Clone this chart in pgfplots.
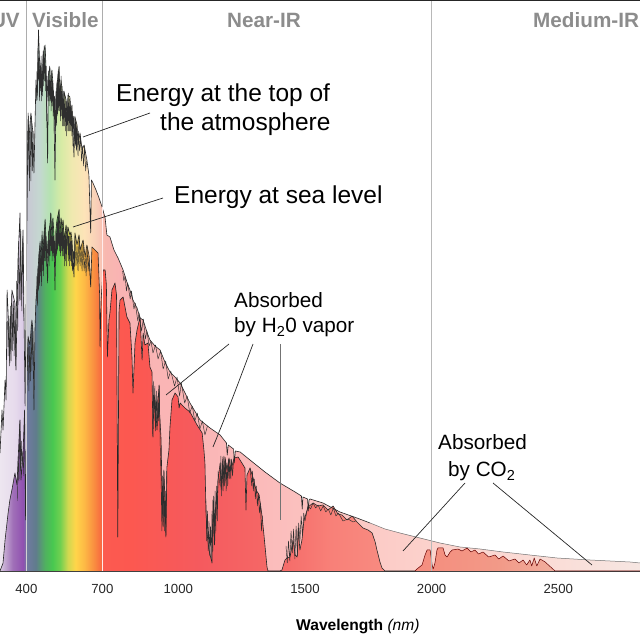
\documentclass[border=0pt]{standalone}
\usepackage{fontspec}
\setmainfont{Liberation Sans}
\usepackage{pgfplots}
\usepackage{pgfplotstable}
\pgfplotsset{compat=1.18}
% top-of-atmosphere spectrum: wavelength (nm), height (arbitrary)
\pgfplotstableread{
nm h
296 118
304 161
308 141
316 191
320 171
324 281
328 258
335 208
343 281
355 268
359 201
367 311
375 358
379 271
387 341
395 165
399 271
407 458
410 431
418 458
426 438
430 398
438 491
442 471
448 541
454 496
458 508
462 481
466 516
474 526
478 501
484 408
487 496
493 504
497 476
501 501
505 488
509 461
513 391
517 471
521 486
529 504
533 476
537 491
541 481
545 451
549 479
557 471
561 446
564 476
572 474
576 446
580 466
588 414
592 454
600 446
604 426
612 438
620 421
628 426
639 411
647 396
654 338
657 391
663 388
675 381
687 373
699 364
711 353
718 336
730 334
746 321
762 313
782 301
797 289
809 281
821 271
837 263
849 253
861 251
876 239
888 231
908 225
928 221
947 209
967 199
987 194
1007 188
1046 168
1086 151
1125 143
1165 136
1190 128
1193 116
1197 126
1218 122
1221 108
1225 120
1244 119
1283 111
1342 99
1401 88
1461 79
1486 75
1489 62
1492 74
1510 72
1513 60
1516 71
1520 72
1571 68
1638 59
1705 53
1757 48
1816 42
1875 38
1954 33
2033 28
2112 24
2191 22
2282 19
2388 16
2495 13
2625 11
2783 9
2823 8
}\toptable
% sea-level spectrum
\pgfplotstableread{
nm h
296 0
308 8
316 31
328 58
335 71
343 81
355 98
363 86
371 131
375 151
379 91
387 118
393 161
397 51
403 201
407 234
414 226
422 251
426 241
430 161
434 241
438 271
442 284
446 301
450 316
454 328
458 311
462 336
466 321
474 351
478 331
484 288
487 336
493 346
497 358
501 331
505 353
509 336
513 281
517 341
521 351
529 361
533 336
537 353
541 343
545 351
549 331
557 346
561 326
564 344
572 336
576 339
580 331
588 294
592 338
600 326
608 336
612 321
624 331
632 314
639 326
647 316
654 284
659 324
671 321
683 318
689 278
691 224
695 271
703 301
711 301
716 286
720 214
726 251
730 258
738 281
750 288
756 276
761 34
764 171
766 261
770 271
782 274
797 254
809 248
817 214
821 178
829 228
837 241
849 254
855 221
857 211
861 238
868 226
880 228
888 204
896 199
900 134
904 176
908 171
916 141
920 171
924 186
926 158
932 131
936 71
940 44
943 101
947 71
951 34
955 104
963 121
967 144
975 171
987 178
999 174
1003 163
1007 168
1026 163
1046 159
1074 146
1094 138
1101 121
1105 108
1109 61
1113 38
1121 21
1133 8
1137 71
1143 26
1149 71
1153 71
1157 91
1165 108
1169 81
1176 114
1180 86
1184 114
1192 101
1200 113
1208 101
1220 113
1236 114
1251 108
1263 103
1267 61
1271 96
1283 103
1295 93
1307 81
1319 76
1330 56
1338 36
1350 4
1354 0
1401 0
1409 1
1421 11
1429 13
1441 14
1453 31
1461 16
1469 14
1473 43
1480 21
1488 31
1496 51
1500 54
1512 64
1532 68
1551 65
1571 66
1591 61
1611 65
1630 57
1646 56
1666 51
1686 55
1705 49
1729 43
1749 41
1765 38
1777 29
1784 21
1796 9
1804 3
1816 0
1934 0
1942 2
1962 6
1974 16
1982 21
1994 21
2002 6
2006 2
2013 8
2021 21
2025 23
2045 23
2053 16
2061 14
2073 19
2081 21
2104 22
2120 20
2140 23
2155 19
2171 21
2185 17
2203 19
2225 14
2250 16
2265 12
2282 15
2305 10
2329 12
2345 8
2361 11
2375 6
2388 11
2395 5
2405 13
2415 5
2428 12
2448 9
2487 0
2823 0
}\seatable
\definecolor{u0}{HTML}{EDE6F0}\definecolor{u1}{HTML}{E6DAEC}\definecolor{u2}{HTML}{D9C9E6}
\definecolor{u3}{HTML}{C8C8D4}\definecolor{u4}{HTML}{C4D8D0}\definecolor{u5}{HTML}{B5E3B0}
\definecolor{u6}{HTML}{D8EBA5}\definecolor{u7}{HTML}{F0E9B0}\definecolor{u8}{HTML}{FDE3B8}
\definecolor{u9}{HTML}{F8CDB8}\definecolor{u10}{HTML}{F8B8B0}\definecolor{u11}{HTML}{F9B3B3}
\definecolor{u12}{HTML}{FBB9B9}\definecolor{u13}{HTML}{FCC8C4}\definecolor{u14}{HTML}{FCD4CE}
\definecolor{u15}{HTML}{FADED8}\definecolor{u16}{HTML}{F6E6E2}
\pgfdeclarehorizontalshading{upperspec}{100bp}{
color(0bp)=(u0);color(25bp)=(u0);color(26.2bp)=(u1);color(26.9bp)=(u2);color(27.1bp)=(u3);
color(28.1bp)=(u4);color(28.9bp)=(u5);color(29.8bp)=(u6);color(30.6bp)=(u7);color(31.6bp)=(u8);
color(32.6bp)=(u9);color(33.2bp)=(u10);color(34.4bp)=(u11);color(44.5bp)=(u12);color(52.3bp)=(u13);
color(60.2bp)=(u14);color(68.8bp)=(u15);color(75bp)=(u16);color(100bp)=(u16)}
\definecolor{l0}{HTML}{D8C8E0}\definecolor{l1}{HTML}{A070B8}\definecolor{l2}{HTML}{9050B0}
\definecolor{l3}{HTML}{707AA0}\definecolor{l4}{HTML}{607C8C}\definecolor{l5}{HTML}{50B060}
\definecolor{l6}{HTML}{48C850}\definecolor{l7}{HTML}{70D050}\definecolor{l8}{HTML}{D0D850}
\definecolor{l9}{HTML}{FFD54A}\definecolor{l10}{HTML}{FDB845}\definecolor{l11}{HTML}{F98A40}
\definecolor{l12}{HTML}{F87040}\definecolor{l13}{HTML}{FC5A50}\definecolor{l14}{HTML}{FC5850}
\definecolor{l15}{HTML}{F55A5E}\definecolor{l16}{HTML}{F56A68}\definecolor{l17}{HTML}{F88078}
\definecolor{l18}{HTML}{F88A80}\definecolor{l19}{HTML}{F49080}\definecolor{l20}{HTML}{F29A88}
\definecolor{l21}{HTML}{F0B0A0}
\pgfdeclarehorizontalshading{lowerspec}{100bp}{
color(0bp)=(l0);color(25bp)=(l0);color(26bp)=(l1);color(26.8bp)=(l2);color(27.1bp)=(l3);
color(27.8bp)=(l4);color(28.5bp)=(l5);color(29.1bp)=(l6);color(29.7bp)=(l7);color(30.3bp)=(l8);
color(30.9bp)=(l9);color(31.6bp)=(l10);color(32.4bp)=(l11);color(32.8bp)=(l12);color(33.1bp)=(l13);
color(35.2bp)=(l14);color(40.6bp)=(l15);color(46.9bp)=(l16);color(50.8bp)=(l17);color(54.7bp)=(l18);
color(59.4bp)=(l19);color(64.1bp)=(l20);color(68.8bp)=(l21);color(100bp)=(l21)}
\definecolor{hdr}{HTML}{8C8C8C}
\newcommand{\bigtxt}{\fontsize{24.5}{28}\selectfont}
\newcommand{\midtxt}{\fontsize{20.7}{24}\selectfont}
\newcommand{\hdrtxt}{\fontsize{20.7}{24}\selectfont\bfseries}
\begin{document}
\begin{tikzpicture}
\clip (0,0) rectangle (640pt,640pt);
\begin{axis}[
  at={(0,0)},anchor=south west,
  scale only axis,width=640pt,height=640pt,
  xmin=296,xmax=2822.5,ymin=-69,ymax=571,
  axis y line=none,
  axis x line=middle,
  axis line style={-,draw=black!75,line width=0.7pt},
  xtick={400,500,...,2800},
  xticklabels={400,,,700,,,1000,,,,,1500,,,,,2000,,,,,2500,,,},
  tick align=inside,
  major tick length=5pt,
  tick style={black!80,line width=0.6pt},
  xticklabel style={font=\fontsize{13.2}{15}\selectfont,yshift=-10pt,text=black!85},
  clip=true,
  fuzz/.style={black!82,line width=0.45pt,line join=round},
]
\addplot[draw=none,shading=upperspec] table[x=nm,y=h]{\toptable} \closedcycle;
\addplot[draw=none,shading=lowerspec] table[x=nm,y=h]{\seatable} \closedcycle;
\addplot[black!85,line width=0.6pt,line join=round,restrict x to domain=296:1757] table[x=nm,y=h]{\toptable};
\addplot[color=black!55,line width=0.5pt,line join=round,restrict x to domain=1757:2823] table[x=nm,y=h]{\toptable};
\addplot[black!85,line width=0.6pt,line join=round,restrict x to domain=296:1934] table[x=nm,y=h]{\seatable};
\addplot[color=black!60!red,line width=0.5pt,line join=round,restrict x to domain=1934:2823] table[x=nm,y=h]{\seatable};
% fine absorption structure, top of atmosphere
\addplot[fuzz] coordinates {(326,250)(328,215)(331,255)(334,205)(337,265)(340,210)(343,275)(346,220)(349,270)(352,215)(355,265)(358,205)(362,290)(366,240)(370,330)(374,270)(378,340)(382,260)(386,335)(390,250)};
\addplot[fuzz] coordinates {(404,440)(406,400)(409,455)(412,380)(415,450)(418,390)(421,455)(424,400)(427,440)};
\addplot[fuzz] coordinates {(440,470)(442,500)(444,475)(446,525)(448,490)(450,515)(452,470)(454,505)(456,480)(458,515)(460,470)(462,500)(464,475)(466,520)(468,485)(470,525)(472,490)(474,520)(476,480)(478,505)(480,450)(482,495)(486,470)(488,500)(490,465)(492,505)(494,470)(496,490)(498,460)(500,500)(502,465)(504,490)(506,455)(508,480)(510,440)(512,475)(515,440)(517,480)(519,445)(521,490)(523,455)(525,500)(527,460)(529,505)(531,460)(533,485)(535,450)(537,495)(539,455)(541,485)(543,445)(545,480)(547,445)(549,480)(551,445)(553,475)(555,440)(557,470)(559,435)(561,470)(564,440)(566,478)(568,440)(570,472)(572,440)(574,470)(576,440)(578,465)(580,435)(582,460)(584,425)(586,455)(590,430)(592,455)(594,425)(596,450)(598,420)(600,445)(604,415)(606,440)(610,420)(614,435)(618,410)(622,425)(626,405)(630,425)(634,400)(638,410)};
\addplot[fuzz] coordinates {(780,300)(785,290)(790,295)(795,280)(800,288)(810,272)(815,280)(825,262)(830,268)(840,250)(845,258)(855,240)(862,252)(870,232)(876,240)(885,225)(892,230)(900,218)(910,226)(920,212)(930,220)(940,202)(950,210)(960,192)(970,200)(985,185)(995,194)(1005,175)(1012,188)(1025,168)(1035,175)(1045,158)(1055,165)(1065,150)(1075,158)(1085,142)(1095,150)(1105,136)(1115,145)};
% fine absorption structure, sea level
\addplot[fuzz] coordinates {(365,70)(368,115)(371,90)(374,150)(377,100)(380,130)(383,105)(386,120)(390,95)(393,155)};
\addplot[fuzz] coordinates {(404,200)(407,235)(410,180)(413,225)(416,190)(419,245)(422,200)(425,245)(428,205)};
\addplot[fuzz] coordinates {(440,270)(442,295)(444,265)(446,305)(448,280)(450,320)(452,285)(454,330)(456,295)(458,315)(460,285)(462,340)(464,300)(466,325)(468,295)(470,340)(472,310)(474,352)(476,310)(478,335)(480,305)(482,330)(486,310)(488,340)(490,305)(492,345)(494,315)(496,358)(498,320)(500,335)(502,310)(504,352)(506,315)(508,335)(510,310)(512,330)(515,305)(517,340)(519,315)(521,350)(523,320)(525,355)(527,325)(529,362)(531,320)(533,338)(535,315)(537,352)(539,320)(541,343)(543,315)(545,350)(547,315)(549,335)(551,305)(553,340)(555,310)(557,345)(559,305)(561,330)(564,344)(566,310)(568,335)(570,305)(572,335)(574,310)(576,338)(578,305)(580,330)(582,300)(586,320)(590,305)(592,335)(596,305)(600,325)(604,300)(608,335)(612,305)(616,325)(620,300)(624,330)(628,300)(632,315)(636,295)(640,325)(644,300)(648,315)(652,295)};
\addplot[fuzz] coordinates {(898,135)(901,190)(904,150)(907,185)(910,140)(913,180)(916,145)(919,175)(922,150)(925,185)(928,130)(932,90)(935,40)(937,95)(940,45)(943,100)(946,40)(949,80)(951,35)(954,100)};
\addplot[fuzz] coordinates {(1109,70)(1112,30)(1115,60)(1118,20)(1121,50)(1124,15)(1127,45)(1130,12)(1133,60)(1136,20)(1139,75)(1142,30)(1145,80)(1148,40)(1151,85)(1154,50)(1157,100)(1165,85)(1168,115)(1171,75)(1174,110)(1177,80)(1180,115)(1183,85)(1186,112)(1189,80)(1192,108)(1195,85)(1198,112)(1201,92)(1204,112)(1207,92)(1210,112)(1214,95)(1218,110)};
\addplot[fuzz] coordinates {(1283,103)(1290,85)(1293,100)(1296,80)(1300,92)(1304,72)(1308,85)(1312,65)(1316,78)(1320,58)(1324,68)(1328,40)(1332,55)};
\addplot[fuzz] coordinates {(1425,25)(1430,8)(1435,30)(1440,10)(1445,40)(1450,18)(1455,42)(1460,12)(1465,45)(1470,15)(1475,48)(1480,30)(1485,55)(1490,35)(1495,58)(1500,50)(1512,65)(1522,62)(1532,68)(1542,63)(1552,66)(1562,60)(1572,65)(1582,59)(1592,62)(1602,56)(1612,63)(1622,55)(1632,58)(1650,50)(1670,52)(1690,49)(1700,50)};
% band boundaries
\addplot[color=black!32,line width=0.9pt] coordinates {(400,571)(400,290)};
\addplot[color=black!18,line width=0.9pt] coordinates {(400,290)(400,0)};
\addplot[color=black!32,line width=0.9pt] coordinates {(700,571)(700,364)};
\addplot[color=white!70!pink,line width=0.9pt] coordinates {(700,364)(700,0)};
\addplot[color=black!28,line width=0.9pt] coordinates {(2000,571)(2000,0)};
\end{axis}
\draw[black!85,line width=1.2pt] (0,640pt)--(640pt,640pt);
% headers
\node[anchor=base east,inner sep=0,text=hdr] at (20pt,612.5pt) {\hdrtxt UV};
\node[anchor=base west,inner sep=0,text=hdr] at (32pt,612.5pt) {\hdrtxt Visible};
\node[anchor=base west,inner sep=0,text=hdr] at (227pt,612.5pt) {\hdrtxt Near-IR};
\node[anchor=base west,inner sep=0,text=hdr] at (533pt,612.5pt) {\hdrtxt Medium-IR};
% annotations
\node[anchor=base west,inner sep=0] at (116pt,538pt) {\bigtxt Energy at the top of};
\node[anchor=base west,inner sep=0] at (160pt,509pt) {\bigtxt the atmosphere};
\node[anchor=base west,inner sep=0] at (174pt,436pt) {\bigtxt Energy at sea level};
\node[anchor=base west,inner sep=0] at (234pt,332pt) {\midtxt Absorbed};
\node[anchor=base west,inner sep=0] at (234pt,307pt) {\midtxt by H\textsubscript{2}0 vapor};
\node[anchor=base west,inner sep=0] at (438pt,190pt) {\midtxt Absorbed};
\node[anchor=base west,inner sep=0] at (448pt,163pt) {\midtxt by CO\textsubscript{2}};
\node[anchor=base west,inner sep=0] at (296pt,9.5pt) {\fontsize{15.6}{18}\selectfont\bfseries Wavelength \mdseries\itshape (nm)};
% leader lines
\begin{scope}[black!85,line width=0.7pt]
\draw (83pt,503pt)--(150pt,527pt);
\draw (73pt,413pt)--(163pt,442pt);
\draw (166pt,245pt)--(229pt,296pt);
\draw (213pt,193pt) .. controls (230pt,235pt) .. (253pt,296pt);
\draw[black!55] (280pt,120pt)--(280pt,296pt);
\draw (403pt,89pt)--(465pt,157pt);
\draw (592pt,75pt)--(493pt,157pt);
\end{scope}
\end{tikzpicture}
\end{document}
